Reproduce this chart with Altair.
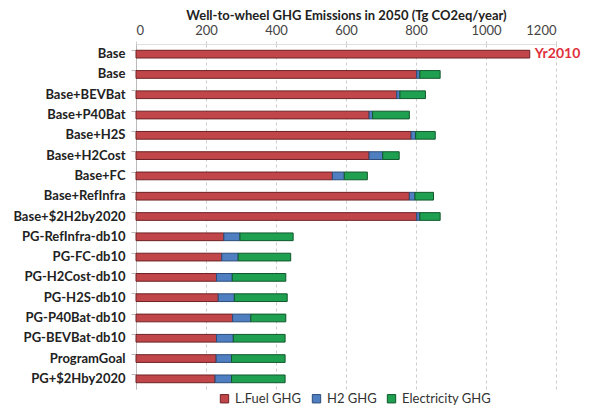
import altair as alt
import pandas as pd

scenarios = ["Base", "Base", "Base+BEVBat", "Base+P40Bat", "Base+H2S", "Base+H2Cost",
             "Base+FC", "Base+RefInfra", "Base+$2H2by2020", "PG-RefInfra-db10",
             "PG-FC-db10", "PG-H2Cost-db10", "PG-H2S-db10", "PG-P40Bat-db10",
             "PG-BEVBat-db10", "ProgramGoal", "PG+$2Hby2020"]
lfuel = [1125, 802, 745, 666, 786, 666, 561, 781, 802, 251, 245, 230, 235, 276, 230, 229, 226]
h2 = [0, 9, 9, 10, 13, 39, 34, 16, 9, 46, 47, 45, 46, 52, 48, 44, 47]
elec = [0, 58, 73, 105, 56, 47, 66, 53, 58, 152, 150, 153, 151, 100, 148, 153, 153]
components = ["L.Fuel GHG", "H2 GHG", "Electricity GHG"]
colors = ["#C0464A", "#4F7FC0", "#1FA050"]
strokes = ["#6E2224", "#2B4C7A", "#11582C"]
note = "Yr2010"

rows = []
for i, s in enumerate(scenarios):
    for k, (comp, vals) in enumerate(zip(components, [lfuel, h2, elec])):
        if vals[i] > 0:
            rows.append({"idx": i, "scenario": s, "component": comp, "ord": k, "value": vals[i]})
df = pd.DataFrame(rows)
note_df = pd.DataFrame([{"idx": 0, "total": lfuel[0] + h2[0] + elec[0], "label": note}])

label_expr = "[" + ",".join("'" + s + "'" for s in scenarios) + "][datum.value]"

y_enc = alt.Y("idx:O", title=None,
              scale=alt.Scale(paddingInner=0.62, paddingOuter=0.31),
              axis=alt.Axis(labelExpr=label_expr, labelFont="Lato", labelFontWeight="bold",
                            labelFontSize=13, labelColor="#222222", labelPadding=6,
                            domainColor="#BBBBBB", tickColor="#BBBBBB", tickSize=5,
                            bandPosition=0, grid=False))

bars = alt.Chart(df).mark_bar(strokeWidth=1).encode(
    x=alt.X("value:Q", stack="zero",
            scale=alt.Scale(domain=[0, 1200], nice=False),
            axis=alt.Axis(orient="top", values=[0, 200, 400, 600, 800, 1000, 1200], format="d",
                          title="Well-to-wheel GHG Emissions in 2050 (Tg CO2eq/year)",
                          titleFont="Lato", titleFontSize=13, titleFontWeight="bold",
                          titleColor="#222222", titlePadding=2,
                          labelFont="Lato", labelFontSize=13, labelColor="#444444",
                          labelPadding=4, grid=True, gridDash=[3, 3], gridColor="#CCCCCC",
                          domainColor="#E0E0E0", tickColor="#CCCCCC", tickSize=3)),
    y=y_enc,
    color=alt.Color("component:N", sort=components,
                    scale=alt.Scale(domain=components, range=colors),
                    legend=alt.Legend(title=None, orient="none", direction="horizontal",
                                      legendX=82, legendY=348, symbolType="square",
                                      symbolSize=70, symbolStrokeColor="#333333",
                                      symbolStrokeWidth=1, labelFont="Lato", labelFontSize=13,
                                      labelColor="#333333", columnPadding=8, labelOffset=4)),
    stroke=alt.Stroke("component:N", sort=components,
                      scale=alt.Scale(domain=components, range=strokes), legend=None),
    order=alt.Order("ord:Q"),
)

text = alt.Chart(note_df).mark_text(align="left", baseline="middle", dx=5,
                                    font="Lato", fontSize=14, fontWeight="bold",
                                    color="#E0303C").encode(
    x=alt.X("total:Q"),
    y=alt.Y("idx:O"),
    text="label:N",
)

chart = (bars + text).properties(
    width=420, height=345,
    autosize=alt.AutoSizeParams(type="none"),
    padding={"left": 128, "top": 36, "right": 27, "bottom": 18},
).configure_view(stroke=None)

chart.save("out.html", embed_options={"renderer": "svg", "actions": False})
